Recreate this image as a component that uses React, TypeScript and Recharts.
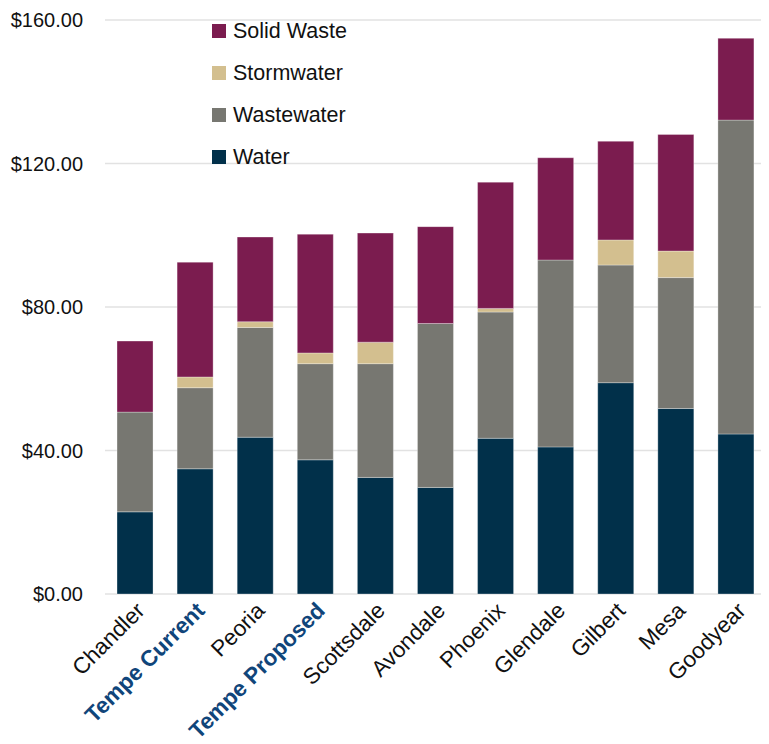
import { Bar, BarChart, CartesianGrid, Customized, XAxis, YAxis } from "recharts";

const cities = [
  "Chandler",
  "Tempe Current",
  "Peoria",
  "Tempe Proposed",
  "Scottsdale",
  "Avondale",
  "Phoenix",
  "Glendale",
  "Gilbert",
  "Mesa",
  "Goodyear",
];
const water = [22.9, 34.9, 43.7, 37.4, 32.5, 29.7, 43.4, 41.0, 58.9, 51.7, 44.6];
const wastewater = [27.8, 22.6, 30.6, 26.8, 31.7, 45.7, 35.2, 52.1, 32.8, 36.5, 87.5];
const stormwater = [0, 3.0, 1.6, 3.0, 6.0, 0, 1.0, 0, 7.0, 7.4, 0];
const solidWaste = [19.8, 32.0, 23.6, 33.1, 30.4, 27.0, 35.2, 28.5, 27.5, 32.5, 22.8];
const yTicks = [0, 40, 80, 120, 160];

const data = cities.map((city, i) => ({
  city,
  water: water[i],
  wastewater: wastewater[i],
  stormwater: stormwater[i],
  solidWaste: solidWaste[i],
}));

const series = [
  { key: "water", name: "Water", color: "#01304a" },
  { key: "wastewater", name: "Wastewater", color: "#777771" },
  { key: "stormwater", name: "Stormwater", color: "#d3bf8f" },
  { key: "solidWaste", name: "Solid Waste", color: "#7b1c4f" },
];

const FONT = "'Liberation Sans', Arial, sans-serif";

function CityTick({ x, y, payload }: any) {
  const tempe = String(payload.value).startsWith("Tempe");
  const ax = x + 11;
  const ay = y + 10;
  return (
    <text
      x={ax}
      y={ay}
      transform={`rotate(-45 ${ax} ${ay})`}
      textAnchor="end"
      fontSize={22.5}
      fontFamily={FONT}
      fontWeight={tempe ? 700 : 400}
      fill={tempe ? "#10457a" : "#111"}
    >
      {payload.value}
    </text>
  );
}

// thin grey frame edge down the left side of the slide
const FrameEdge = () => <rect x={6} y={0} width={2} height={744} fill="#8f8f8f" />;

function LegendBox() {
  return (
    <div
      style={{
        position: "absolute",
        left: 212,
        top: 10,
        zIndex: 2,
        fontFamily: FONT,
        fontSize: 21.5,
        color: "#111",
      }}
    >
      {[...series].reverse().map((s) => (
        <div key={s.key} style={{ display: "flex", alignItems: "center", height: 42 }}>
          <span style={{ width: 14, height: 14, background: s.color, marginRight: 7 }} />
          {s.name}
        </div>
      ))}
    </div>
  );
}

export default function App() {
  return (
    <div
      style={{
        position: "relative",
        width: 769,
        height: 744,
        marginLeft: -8,
        marginTop: -8,
        background: "#fff",
      }}
    >
      <LegendBox />
      <BarChart
        width={769}
        height={744}
        data={data}
        margin={{ top: 20, right: 3, left: 0, bottom: 0 }}
        barCategoryGap="20%"
      >
        <CartesianGrid vertical={false} stroke="#e2e2e2" strokeWidth={1.5} />
        <XAxis
          dataKey="city"
          height={150}
          interval={0}
          tick={<CityTick />}
          tickLine={false}
          axisLine={false}
        />
        <YAxis
          width={105}
          domain={[0, 160]}
          ticks={yTicks}
          tickFormatter={(v) => `$${v.toFixed(2)}`}
          tick={{ fontSize: 20, fill: "#111", fontFamily: FONT }}
          tickMargin={16}
          tickLine={false}
          axisLine={false}
        />
        {series.map((s) => (
          <Bar
            key={s.key}
            dataKey={s.key}
            name={s.name}
            stackId="a"
            fill={s.color}
            stroke="#ffffff"
            strokeOpacity={0.3}
            strokeWidth={1}
            isAnimationActive={false}
          />
        ))}
        <Customized component={FrameEdge} />
      </BarChart>
    </div>
  );
}
